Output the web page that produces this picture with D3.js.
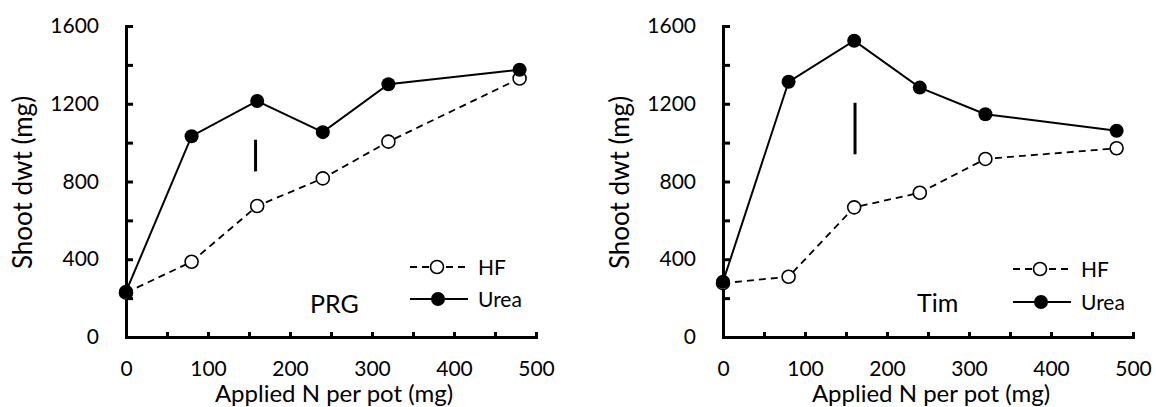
<!DOCTYPE html>
<meta charset="utf-8">
<title>Shoot dwt vs applied N</title>
<style>
body {
  margin: 0;
  background: #fff;
}
text {
  font-family: Lato, "Noto Sans", sans-serif;
  fill: #000;
}
.axis path, .axis line {
  stroke: #000;
  stroke-width: 3px;
}
.axis text {
  font-size: 21px;
}
</style>
<body>
<script src="https://cdn.jsdelivr.net/npm/d3@7"></script>
<script>

// applied N (mg per pot)
var nRates = [0, 80, 160, 240, 320, 480];

// PRG
var prgHF   = [228, 387, 674, 816, 1005, 1330];
var prgUrea = [233, 1033, 1214, 1054, 1300, 1375];
var prgLsd  = {x: 158, lo: 852, hi: 1015};

// Tim
var timHF   = [277, 310, 667, 742, 916, 971];
var timUrea = [284, 1313, 1524, 1283, 1146, 1061];
var timLsd  = {x: 161, lo: 940, hi: 1205};

var xTicks = [0, 50, 100, 150, 200, 250, 300, 350, 400, 450, 500];
var yTicks = [0, 200, 400, 600, 800, 1000, 1200, 1400, 1600];

var W = 1156, H = 407;

var svg = d3.select("body").append("svg")
    .attr("width", W)
    .attr("height", H);

var panels = [
  {left: 126, name: "PRG", hf: prgHF, urea: prgUrea, lsd: prgLsd,
   nameX: 310, nameY: 313, legX: 410, legY: [267, 299]},
  {left: 723, name: "Tim", hf: timHF, urea: timUrea, lsd: timLsd,
   nameX: 917, nameY: 312, legX: 1013, legY: [269, 302]}
];

panels.forEach(function(p) {
  var w = 410, top = 26, h = 311;

  var x = d3.scaleLinear().domain([0, 500]).range([0, w]);
  var y = d3.scaleLinear().domain([0, 1600]).range([h, 0]);

  var g = svg.append("g")
      .attr("transform", "translate(" + p.left + "," + top + ")");

  g.append("g")
      .attr("class", "axis")
      .attr("transform", "translate(0," + h + ")")
      .call(d3.axisBottom(x).tickValues(xTicks).tickSize(-5).tickSizeOuter(0).tickPadding(24)
        .tickFormat(function(d) { return d % 100 == 0 ? d : ""; }));

  g.append("g")
      .attr("class", "axis")
      .call(d3.axisLeft(y).tickValues(yTicks).tickSize(-7).tickSizeOuter(0).tickPadding(27)
        .tickFormat(function(d) { return d % 400 == 0 ? d : ""; }));

  g.selectAll(".axis .domain").attr("stroke-linecap", "square");

  // axis titles
  g.append("text")
      .attr("x", w / 2 + 3)
      .attr("y", 376)
      .attr("text-anchor", "middle")
      .style("font-size", "24px")
      .text("Applied N per pot (mg)");

  g.append("text")
      .attr("transform", "translate(-103," + (h / 2 + 1) + ")rotate(-90)")
      .attr("text-anchor", "middle")
      .attr("dy", "0.35em")
      .style("font-size", "26px")
      .text("Shoot dwt (mg)");

  var line = function(vals) {
    return d3.line()
      .x(function(d, i) { return x(nRates[i]); })
      .y(function(d) { return y(d); })(vals);
  };

  // HF
  g.append("path")
      .attr("d", line(p.hf))
      .attr("fill", "none")
      .attr("stroke", "#000")
      .attr("stroke-width", 1.8)
      .attr("stroke-dasharray", "7,5");

  g.selectAll(".hf").data(p.hf).enter().append("circle")
      .attr("class", "hf")
      .attr("cx", function(d, i) { return x(nRates[i]); })
      .attr("cy", function(d) { return y(d); })
      .attr("r", 6.5)
      .attr("fill", "#fff")
      .attr("stroke", "#000")
      .attr("stroke-width", 1.6);

  // Urea
  g.append("path")
      .attr("d", line(p.urea))
      .attr("fill", "none")
      .attr("stroke", "#000")
      .attr("stroke-width", 2);

  g.selectAll(".urea").data(p.urea).enter().append("circle")
      .attr("class", "urea")
      .attr("cx", function(d, i) { return x(nRates[i]); })
      .attr("cy", function(d) { return y(d); })
      .attr("r", 7)
      .attr("fill", "#000");

  // LSD bar
  g.append("line")
      .attr("x1", x(p.lsd.x)).attr("x2", x(p.lsd.x))
      .attr("y1", y(p.lsd.lo)).attr("y2", y(p.lsd.hi))
      .attr("stroke", "#000")
      .attr("stroke-width", 3);

  // panel name
  svg.append("text")
      .attr("x", p.nameX)
      .attr("y", p.nameY)
      .style("font-size", "25px")
      .text(p.name);

  // legend
  var lg = svg.append("g");
  lg.append("line")
      .attr("x1", p.legX).attr("x2", p.legX + 56)
      .attr("y1", p.legY[0]).attr("y2", p.legY[0])
      .attr("stroke", "#000").attr("stroke-width", 1.8)
      .attr("stroke-dasharray", "7,5");
  lg.append("circle")
      .attr("cx", p.legX + 27).attr("cy", p.legY[0]).attr("r", 6.5)
      .attr("fill", "#fff").attr("stroke", "#000").attr("stroke-width", 1.6);
  lg.append("line")
      .attr("x1", p.legX).attr("x2", p.legX + 58)
      .attr("y1", p.legY[1]).attr("y2", p.legY[1])
      .attr("stroke", "#000").attr("stroke-width", 2);
  lg.append("circle")
      .attr("cx", p.legX + 28).attr("cy", p.legY[1]).attr("r", 7)
      .attr("fill", "#000");
  lg.selectAll(".lt").data(["HF", "Urea"]).enter().append("text")
      .attr("x", p.legX + 68)
      .attr("y", function(d, i) { return p.legY[i]; })
      .attr("dy", "0.36em")
      .style("font-size", "21px")
      .text(function(d) { return d; });
});

</script>
